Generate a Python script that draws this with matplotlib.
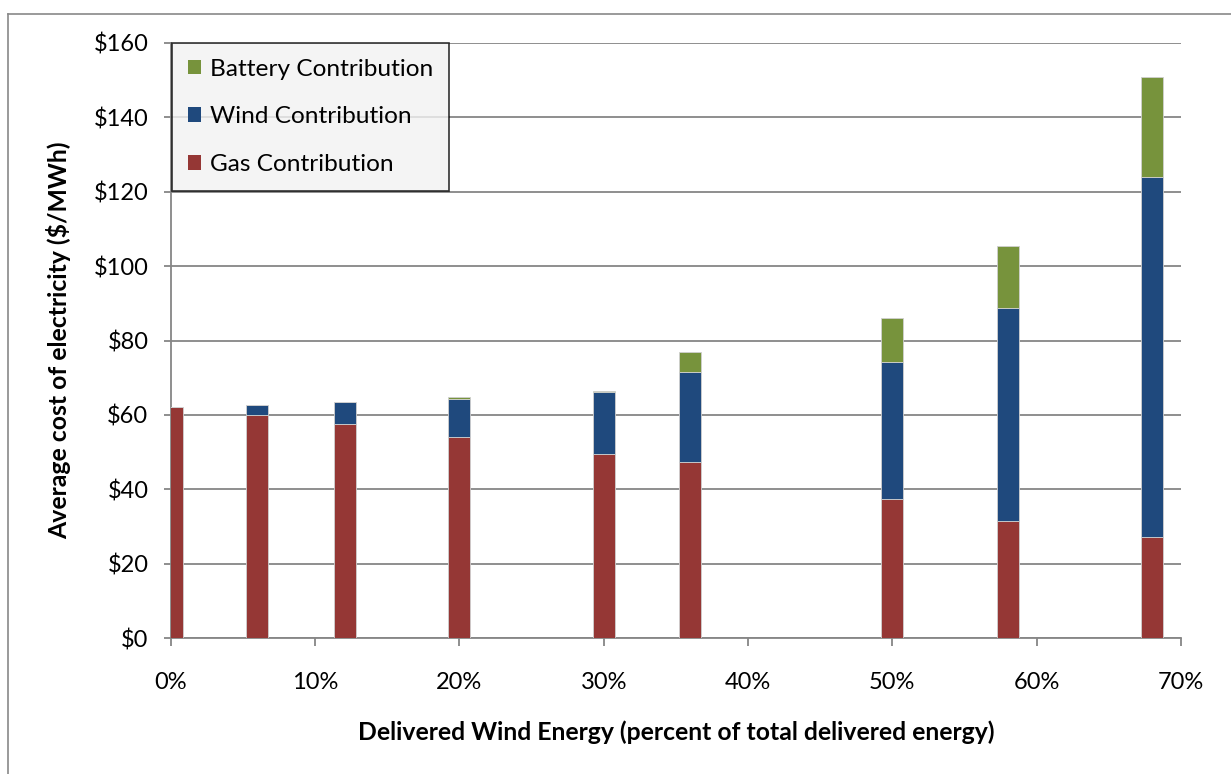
import numpy as np
import matplotlib
matplotlib.use("Agg")
import matplotlib.pyplot as plt
from matplotlib.patches import Patch
from matplotlib.lines import Line2D

# ================================
# DATA
# ================================
wind_share = [0.1, 6.0, 12.1, 20.0, 30.0, 36.0, 50.0, 58.0, 68.0]   # % delivered wind energy
gas = [62.2, 60.1, 57.6, 54.1, 49.6, 47.4, 37.5, 31.5, 27.3]
wind = [0.0, 2.6, 5.9, 10.2, 16.5, 24.2, 36.7, 57.2, 96.6]
battery = [0.0, 0.0, 0.0, 0.6, 0.4, 5.2, 11.9, 16.6, 27.0]

x_ticks = [0, 10, 20, 30, 40, 50, 60, 70]
y_ticks = [0, 20, 40, 60, 80, 100, 120, 140, 160]

GAS_C = "#953735"
WIND_C = "#1F497D"
BATT_C = "#77933C"
GRID_C = "#868686"

plt.rcParams['font.family'] = ['Lato', 'DejaVu Sans']

W, H = 1231, 774
fig = plt.figure(figsize=(W / 100, H / 100), dpi=100)
ax = fig.add_axes([170.7 / W, 1 - 638.3 / H, (1181 - 170.7) / W, (638.3 - 42.7) / H])

x = np.array(wind_share)
g = np.array(gas)
w = np.array(wind)
b = np.array(battery)
bw = 1.52
edge = dict(edgecolor="#d0d0d0", linewidth=0.6)

ax.bar(x, g, width=bw, color=GAS_C, zorder=3, **edge)
ax.bar(x, w, width=bw, bottom=g, color=WIND_C, zorder=3, **edge)
ax.bar(x, b, width=bw, bottom=g + w, color=BATT_C, zorder=3, **edge)

ax.set_xlim(0, 70)
ax.set_ylim(0, 160)
ax.set_xticks(x_ticks)
ax.set_xticklabels([f"{t}%" for t in x_ticks])
ax.set_yticks(y_ticks)
ax.set_yticklabels([f"${t}" for t in y_ticks])

ax.yaxis.grid(True, color=GRID_C, linewidth=1.3, zorder=0)
ax.set_axisbelow(True)
for s in ["top", "right"]:
    ax.spines[s].set_visible(False)
for s in ["left", "bottom"]:
    ax.spines[s].set_color(GRID_C)
    ax.spines[s].set_linewidth(1.3)

ax.tick_params(axis="x", length=6, width=1.3, color=GRID_C, pad=18, labelsize=17)
ax.tick_params(axis="y", length=5, width=1.3, color=GRID_C, pad=11, labelsize=17)

ax.set_xlabel("Delivered Wind Energy (percent of total delivered energy)",
              fontsize=17.8, fontweight="bold", labelpad=20)
ax.set_ylabel("Average cost of electricity ($/MWh)",
              fontsize=17.8, fontweight="bold", labelpad=16)

handles = [Patch(facecolor=BATT_C), Patch(facecolor=WIND_C), Patch(facecolor=GAS_C)]
labels = ["Battery Contribution", "Wind Contribution", "Gas Contribution"]
leg = ax.legend(handles, labels, loc="upper left", bbox_to_anchor=(0.001, 1.0),
                borderaxespad=0, fontsize=17.6, frameon=True, fancybox=False,
                handlelength=0.56, handleheight=0.56, handletextpad=0.35,
                labelspacing=1.1, borderpad=0.65)
leg.get_frame().set_facecolor("#f2f2f2")
leg.get_frame().set_edgecolor("black")
leg.get_frame().set_linewidth(1.2)
leg.set_zorder(5)

# chart-area border (only left and top are visible in the crop)
fig.add_artist(Line2D([8 / W, 8 / W], [0, 1 - 14 / H], color="#898989", linewidth=1.2))
fig.add_artist(Line2D([8 / W, 1], [1 - 14 / H, 1 - 14 / H], color="#898989", linewidth=1.2))

fig.savefig("out.png", dpi=100, facecolor="white")
